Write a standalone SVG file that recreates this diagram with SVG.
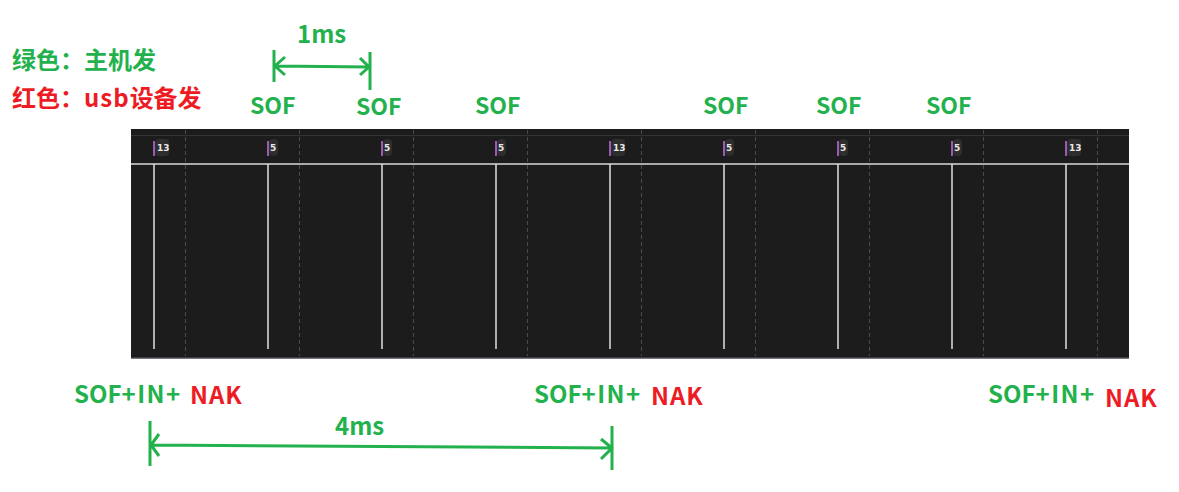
<svg xmlns="http://www.w3.org/2000/svg" width="1179" height="492" viewBox="0 0 1179 492">
<defs>
<style>
.t{font-family:"Noto Sans CJK SC","Open Sans",sans-serif;font-weight:700}
.g{fill:#22b14c}
.r{fill:#ed1c24}
.sof{font-size:23px}
.sin{font-size:24px}
.nak{font-size:24px;letter-spacing:1px}
.grid{stroke:#4a4a4a;stroke-width:1;stroke-dasharray:4 3}
.tick{stroke:#e0e0e0;stroke-width:1.5}
.mk{stroke:#c86ee0;stroke-width:1.5}
.lb{fill:#2e2e2e}
.num{font-family:"DejaVu Sans",sans-serif;font-weight:700;font-size:9px;fill:#e8e8e8}
.arr{stroke:#22b14c;stroke-width:3;fill:none}
</style>
</defs>
<rect width="1179" height="492" fill="#ffffff"/>
<g id="legend">
<text class="t g" x="12" y="69" font-size="24">绿色：主机发</text>
<text class="t r" x="12" y="107" font-size="24">红色：<tspan letter-spacing="1">usb</tspan>设备发</text>
</g>
<g id="panel">
<rect x="131" y="129" width="998" height="229" fill="#1c1c1c"/>
<line x1="131" y1="135.5" x2="1129" y2="135.5" stroke="#333" stroke-width="1"/>
<line x1="131" y1="164" x2="1129" y2="164" stroke="#d8d8d8" stroke-width="1.5"/>
<line x1="131" y1="358" x2="1129" y2="358" stroke="#4a4a52" stroke-width="1.5"/>
<g id="grid">
<line class="grid" x1="185.5" y1="130" x2="185.5" y2="356"/>
<line class="grid" x1="299.5" y1="130" x2="299.5" y2="356"/>
<line class="grid" x1="413.5" y1="130" x2="413.5" y2="356"/>
<line class="grid" x1="527.5" y1="130" x2="527.5" y2="356"/>
<line class="grid" x1="641.5" y1="130" x2="641.5" y2="356"/>
<line class="grid" x1="755.5" y1="130" x2="755.5" y2="356"/>
<line class="grid" x1="869.5" y1="130" x2="869.5" y2="356"/>
<line class="grid" x1="983.5" y1="130" x2="983.5" y2="356"/>
<line class="grid" x1="1097.5" y1="130" x2="1097.5" y2="356"/>
</g>
<g id="ticks">
<line class="tick" x1="154" y1="164" x2="154" y2="349" stroke-width="2"/>
<line class="tick" x1="268" y1="164" x2="268" y2="349"/>
<line class="tick" x1="382" y1="164" x2="382" y2="349"/>
<line class="tick" x1="496" y1="164" x2="496" y2="349"/>
<line class="tick" x1="610" y1="164" x2="610" y2="349" stroke-width="2"/>
<line class="tick" x1="724" y1="164" x2="724" y2="349"/>
<line class="tick" x1="838" y1="164" x2="838" y2="349"/>
<line class="tick" x1="952" y1="164" x2="952" y2="349"/>
<line class="tick" x1="1066" y1="164" x2="1066" y2="349"/>
</g>
<g id="markers">
<line class="mk" x1="154" y1="141" x2="154" y2="156" stroke-width="2"/><rect class="lb" x="155" y="139" width="14" height="17" rx="4"/><text class="num" x="157" y="151">13</text>
<line class="mk" x1="268" y1="141" x2="268" y2="156"/><rect class="lb" x="269" y="139" width="9" height="17" rx="4"/><text class="num" x="270" y="151">5</text>
<line class="mk" x1="382" y1="141" x2="382" y2="156"/><rect class="lb" x="383" y="139" width="9" height="17" rx="4"/><text class="num" x="384" y="151">5</text>
<line class="mk" x1="496" y1="141" x2="496" y2="156"/><rect class="lb" x="497" y="139" width="9" height="17" rx="4"/><text class="num" x="498" y="151">5</text>
<line class="mk" x1="610" y1="141" x2="610" y2="156" stroke-width="2"/><rect class="lb" x="611" y="139" width="14" height="17" rx="4"/><text class="num" x="613" y="151">13</text>
<line class="mk" x1="724" y1="141" x2="724" y2="156"/><rect class="lb" x="725" y="139" width="9" height="17" rx="4"/><text class="num" x="726" y="151">5</text>
<line class="mk" x1="838" y1="141" x2="838" y2="156"/><rect class="lb" x="839" y="139" width="9" height="17" rx="4"/><text class="num" x="840" y="151">5</text>
<line class="mk" x1="952" y1="141" x2="952" y2="156"/><rect class="lb" x="953" y="139" width="9" height="17" rx="4"/><text class="num" x="954" y="151">5</text>
<line class="mk" x1="1066" y1="141" x2="1066" y2="156"/><rect class="lb" x="1067" y="139" width="14" height="17" rx="4"/><text class="num" x="1069" y="151">13</text>
</g>
</g>
<g id="sof-labels">
<text class="t g sof" x="250" y="114">SOF</text>
<text class="t g sof" x="356" y="115">SOF</text>
<text class="t g sof" x="475" y="114">SOF</text>
<text class="t g sof" x="703" y="114">SOF</text>
<text class="t g sof" x="816" y="114">SOF</text>
<text class="t g sof" x="926" y="114">SOF</text>
</g>
<g id="bottom-labels">
<text class="t g sin" x="74" y="403">SOF<tspan letter-spacing="1.5">+IN+</tspan></text>
<text class="t r nak" x="190" y="404">NAK</text>
<text class="t g sin" x="534" y="403">SOF<tspan letter-spacing="1.5">+IN+</tspan></text>
<text class="t r nak" x="651" y="405">NAK</text>
<text class="t g sin" x="988" y="403">SOF<tspan letter-spacing="1.5">+IN+</tspan></text>
<text class="t r nak" x="1105" y="407">NAK</text>
</g>
<g id="connectors">
<path class="arr" d="M274 50V82M370 52V90M275 66L369 67M285 57L275 66L285 75M360 58L369 67L360 75"/>
<path class="arr" d="M150 421V466M612 426V470M151 445L612 448M159 434L151 445L159 456M601 439L612 448L601 459"/>
</g>
<g id="dim-labels">
<text class="t g" x="297" y="43" font-size="24">1ms</text>
<text class="t g" x="335" y="435" font-size="24">4ms</text>
</g>
</svg>
